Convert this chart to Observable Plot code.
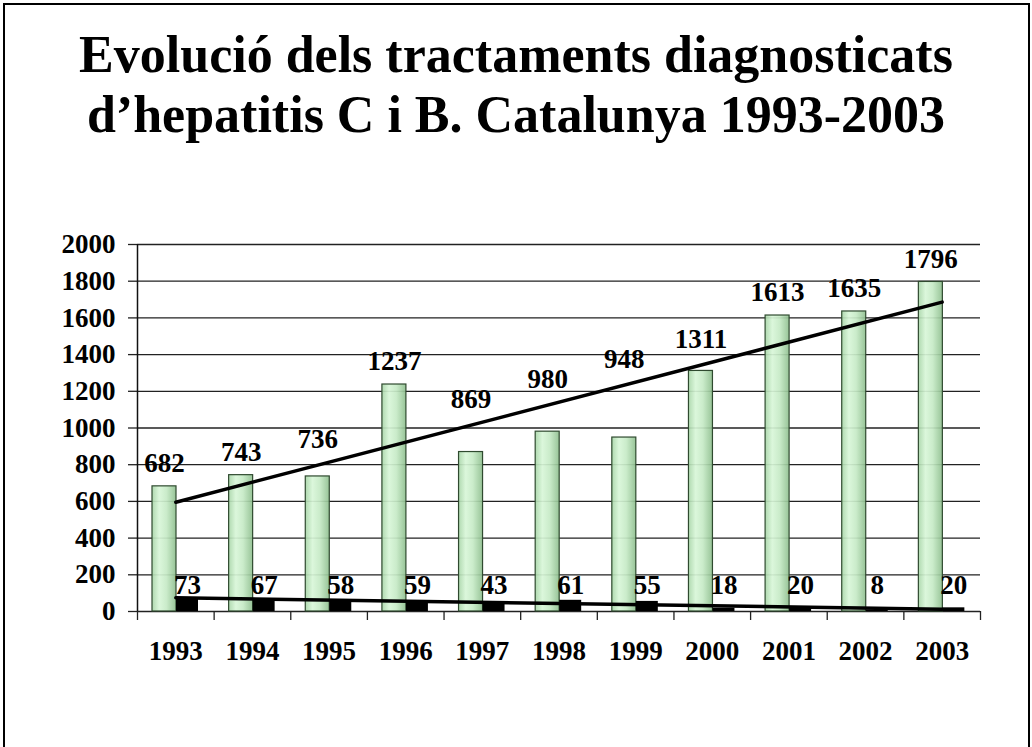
<!DOCTYPE html>
<html>
<head>
<meta charset="utf-8">
<script src="https://cdn.jsdelivr.net/npm/d3@7"></script>
<script src="https://cdn.jsdelivr.net/npm/@observablehq/plot@0.6"></script>
<style>
  html, body { margin: 0; padding: 0; background: #fff; overflow: hidden; width: 1032px; height: 747px; }
  #frame { position: absolute; left: 3px; top: 3px; width: 1023px; height: 800px; border: 2px solid #000; }
  #title { position: absolute; left: 0; top: 25px; width: 1032px; text-align: center;
           font-family: "Liberation Serif", "Times New Roman", serif; font-weight: bold;
           font-size: 52px; line-height: 60px; color: #000; }
  #chart { position: absolute; left: 0; top: 200px; }
  #chart svg text { font-family: "Liberation Serif", "Times New Roman", serif !important; font-weight: bold; }
</style>
</head>
<body>
<div id="frame"></div>
<div id="title">Evolució dels tractaments diagnosticats<br>d’hepatitis C i B. Catalunya 1993-2003</div>
<div id="chart"></div>
<script>
const years = [1993, 1994, 1995, 1996, 1997, 1998, 1999, 2000, 2001, 2002, 2003];
const hepC = [682, 743, 736, 1237, 869, 980, 948, 1311, 1613, 1635, 1796];
const hepB = [73, 67, 58, 59, 43, 61, 55, 18, 20, 8, 20];
const yTicks = [0, 200, 400, 600, 800, 1000, 1200, 1400, 1600, 1800, 2000];

const data = years.map((year, i) => ({year, C: hepC[i], B: hepB[i]}));
const bounds = [...years.map(y => y - 0.5), years[years.length - 1] + 0.5];

// least-squares trend for C, used to keep labels clear of the trend line
function fit(xs, ys) {
  const mx = d3.mean(xs), my = d3.mean(ys);
  const sxy = d3.sum(xs, (x, i) => (x - mx) * (ys[i] - my));
  const sxx = d3.sum(xs, x => (x - mx) ** 2);
  const b = sxy / sxx;
  return x => my + b * (x - mx);
}
const trendC = fit(years, hepC);

const W = 1032, H = 500;
const mL = 137, mR = 52;
const band = (W - mL - mR) / years.length;
const font = {fontFamily: "Liberation Serif", fontWeight: "bold", fontSize: 27};

const chart = Plot.plot({
  width: W, height: H,
  marginLeft: mL, marginRight: mR, marginTop: 44, marginBottom: 89,
  style: {fontFamily: "Liberation Serif", fontWeight: "bold", fontSize: "27px", background: "transparent", color: "#000"},
  x: {type: "linear", domain: [bounds[0], bounds[bounds.length - 1]], axis: null, label: null},
  y: {domain: [0, 2000], axis: null, label: null},
  marks: [
    Plot.ruleY(yTicks, {stroke: "#222", strokeWidth: 1.3}),
    Plot.axisY({ticks: yTicks, tickSize: 9, tickPadding: 13, tickFormat: d => String(d), label: null, stroke: "#222", strokeWidth: 1.3, ...font}),
    Plot.axisX({ticks: bounds, tickSize: 9, tickFormat: () => "", label: null, stroke: "#222", strokeWidth: 1.3}),
    Plot.axisX({ticks: years, tickSize: 0, tickPadding: 29, tickFormat: d => String(d), label: null, ...font}),
    Plot.ruleX([bounds[0]], {y1: 0, y2: 2000, stroke: "#111", strokeWidth: 1.5}),
    Plot.rectY(data, {x1: d => d.year - 0.5, x2: d => d.year + 0.5, y: "C",
      insetLeft: 15, insetRight: band - 39,
      fill: "url(#greenGrad)", fillOpacity: 0.92, stroke: "#2f4a2f", strokeWidth: 1.2}),
    Plot.rectY(data, {x1: d => d.year - 0.5, x2: d => d.year + 0.5, y: "B",
      insetLeft: 39, insetRight: band - 61, fill: "#000"}),
    Plot.linearRegressionY(data, {x: "year", y: "C", ci: 0, stroke: "#000", strokeWidth: 3.5}),
    Plot.linearRegressionY(data, {x: "year", y: "B", ci: 0, stroke: "#000", strokeWidth: 3.5}),
    Plot.text(data, {x: "year", y: d => Math.max(d.C, trendC(d.year)), text: d => String(d.C),
      dx: 27 - band / 2, dy: -23, lineAnchor: "middle", fill: "#000", ...font}),
    Plot.text(data, {x: "year", y: 0, text: d => String(d.B),
      dx: 50 - band / 2, dy: -26, lineAnchor: "middle", fill: "#000", ...font})
  ]
});

// gradient definition for the green bars
const ns = "http://www.w3.org/2000/svg";
const defs = document.createElementNS(ns, "defs");
const grad = document.createElementNS(ns, "linearGradient");
grad.setAttribute("id", "greenGrad");
grad.setAttribute("x1", "0"); grad.setAttribute("x2", "1");
grad.setAttribute("y1", "0"); grad.setAttribute("y2", "0");
[["0%", "#a9d6a9"], ["30%", "#d8f6d8"], ["60%", "#c6eac6"], ["100%", "#8fbf8f"]].forEach(([o, c]) => {
  const s = document.createElementNS(ns, "stop");
  s.setAttribute("offset", o); s.setAttribute("stop-color", c);
  grad.appendChild(s);
});
defs.appendChild(grad);
chart.insertBefore(defs, chart.firstChild);

document.getElementById("chart").appendChild(chart);
</script>
</body>
</html>
